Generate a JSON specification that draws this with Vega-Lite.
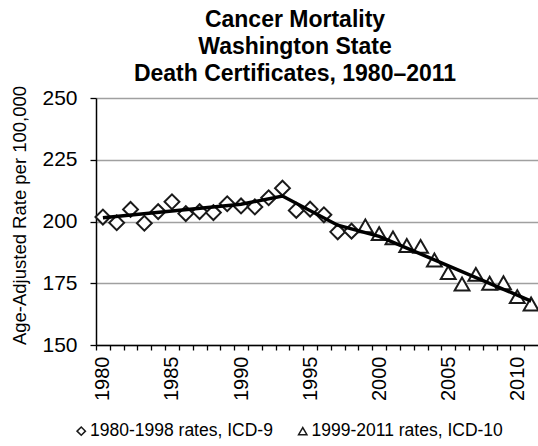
{
  "$schema": "https://vega.github.io/schema/vega-lite/v6.json",
  "width": 442,
  "height": 247,
  "autosize": {"type": "none"},
  "padding": {"left": 96, "top": 98, "right": 0, "bottom": 101},
  "background": "white",
  "title": {
    "text": ["Cancer Mortality", "Washington State", "Death Certificates, 1980–2011"],
    "font": "Liberation Sans",
    "fontSize": 23,
    "fontWeight": "bold",
    "color": "#000000",
    "lineHeight": 27,
    "anchor": "middle",
    "dx": -22,
    "offset": -1
  },
  "datasets": {
    "points": [
      {"year": 1980, "rate": 201.8, "series": "1980-1998 rates, ICD-9"},
      {"year": 1981, "rate": 199.5, "series": "1980-1998 rates, ICD-9"},
      {"year": 1982, "rate": 204.9, "series": "1980-1998 rates, ICD-9"},
      {"year": 1983, "rate": 199.3, "series": "1980-1998 rates, ICD-9"},
      {"year": 1984, "rate": 204.0, "series": "1980-1998 rates, ICD-9"},
      {"year": 1985, "rate": 208.0, "series": "1980-1998 rates, ICD-9"},
      {"year": 1986, "rate": 203.2, "series": "1980-1998 rates, ICD-9"},
      {"year": 1987, "rate": 204.0, "series": "1980-1998 rates, ICD-9"},
      {"year": 1988, "rate": 203.6, "series": "1980-1998 rates, ICD-9"},
      {"year": 1989, "rate": 207.2, "series": "1980-1998 rates, ICD-9"},
      {"year": 1990, "rate": 206.3, "series": "1980-1998 rates, ICD-9"},
      {"year": 1991, "rate": 205.9, "series": "1980-1998 rates, ICD-9"},
      {"year": 1992, "rate": 209.6, "series": "1980-1998 rates, ICD-9"},
      {"year": 1993, "rate": 213.5, "series": "1980-1998 rates, ICD-9"},
      {"year": 1994, "rate": 204.5, "series": "1980-1998 rates, ICD-9"},
      {"year": 1995, "rate": 205.0, "series": "1980-1998 rates, ICD-9"},
      {"year": 1996, "rate": 202.7, "series": "1980-1998 rates, ICD-9"},
      {"year": 1997, "rate": 195.8, "series": "1980-1998 rates, ICD-9"},
      {"year": 1998, "rate": 196.1, "series": "1980-1998 rates, ICD-9"},
      {"year": 1999, "rate": 198.2, "series": "1999-2011 rates, ICD-10"},
      {"year": 2000, "rate": 195.1, "series": "1999-2011 rates, ICD-10"},
      {"year": 2001, "rate": 193.4, "series": "1999-2011 rates, ICD-10"},
      {"year": 2002, "rate": 190.3, "series": "1999-2011 rates, ICD-10"},
      {"year": 2003, "rate": 189.9, "series": "1999-2011 rates, ICD-10"},
      {"year": 2004, "rate": 184.4, "series": "1999-2011 rates, ICD-10"},
      {"year": 2005, "rate": 179.3, "series": "1999-2011 rates, ICD-10"},
      {"year": 2006, "rate": 174.7, "series": "1999-2011 rates, ICD-10"},
      {"year": 2007, "rate": 178.6, "series": "1999-2011 rates, ICD-10"},
      {"year": 2008, "rate": 175.0, "series": "1999-2011 rates, ICD-10"},
      {"year": 2009, "rate": 175.2, "series": "1999-2011 rates, ICD-10"},
      {"year": 2010, "rate": 169.6, "series": "1999-2011 rates, ICD-10"},
      {"year": 2011, "rate": 166.6, "series": "1999-2011 rates, ICD-10"}
    ],
    "trend": [
      {"year": 1980, "rate": 201.5},
      {"year": 1990, "rate": 207.0},
      {"year": 1993, "rate": 210.3},
      {"year": 1997, "rate": 198.5},
      {"year": 2000, "rate": 194.0},
      {"year": 2011, "rate": 167.8}
    ]
  },
  "config": {
    "view": {"stroke": null},
    "font": "Liberation Sans",
    "axis": {
      "labelFont": "Liberation Sans",
      "titleFont": "Liberation Sans",
      "labelColor": "#000000",
      "titleColor": "#000000",
      "domainColor": "#000000",
      "tickColor": "#000000",
      "domainWidth": 1.5,
      "tickWidth": 1.3
    }
  },
  "encoding": {
    "x": {
      "field": "year",
      "type": "quantitative",
      "scale": {"domain": [1979.5, 2011.5], "nice": false, "zero": false},
      "axis": {
        "title": null,
        "values": [1980, 1981, 1982, 1983, 1984, 1985, 1986, 1987, 1988, 1989, 1990, 1991, 1992, 1993, 1994, 1995, 1996, 1997, 1998, 1999, 2000, 2001, 2002, 2003, 2004, 2005, 2006, 2007, 2008, 2009, 2010, 2011],
        "labelExpr": "datum.value % 5 == 0 ? datum.value : ''",
        "tickOffset": -6.9,
        "labelOffset": 6.9,
        "tickSize": 5,
        "labelAngle": -90,
        "labelFontSize": 20,
        "labelPadding": 6,
        "grid": false,
        "labelOverlap": false,
        "labelFlush": false
      }
    },
    "y": {
      "field": "rate",
      "type": "quantitative",
      "scale": {"domain": [150, 250], "nice": false, "zero": false},
      "axis": {
        "title": "Age-Adjusted Rate per 100,000",
        "titleFontSize": 18.5,
        "titleFontWeight": "normal",
        "titlePadding": 12,
        "titleY": 117,
        "values": [150, 175, 200, 225, 250],
        "labelFontSize": 21,
        "labelPadding": 13,
        "tickSize": 6,
        "grid": true,
        "gridColor": "#a0a0a0",
        "gridWidth": 1.4
      }
    }
  },
  "layer": [
    {
      "data": {"name": "points"},
      "mark": {"type": "point", "filled": true, "fill": "white", "stroke": "#1a1a1a", "strokeWidth": 2, "size": 220, "opacity": 1},
      "encoding": {
        "shape": {
          "field": "series",
          "type": "nominal",
          "scale": {"domain": ["1980-1998 rates, ICD-9", "1999-2011 rates, ICD-10"], "range": ["diamond", "triangle-up"]},
          "legend": {
            "title": null,
            "orient": "none",
            "legendX": -23.5,
            "legendY": 324,
            "direction": "horizontal",
            "labelFontSize": 17.5,
            "labelFont": "Liberation Sans",
            "labelColor": "#000000",
            "labelLimit": 400,
            "symbolSize": 70,
            "labelOffset": 0,
            "columnPadding": 20.5
          }
        }
      }
    },
    {
      "data": {"name": "trend"},
      "mark": {"type": "line", "color": "#000000", "strokeWidth": 3.5},
      "encoding": {}
    }
  ]
}
